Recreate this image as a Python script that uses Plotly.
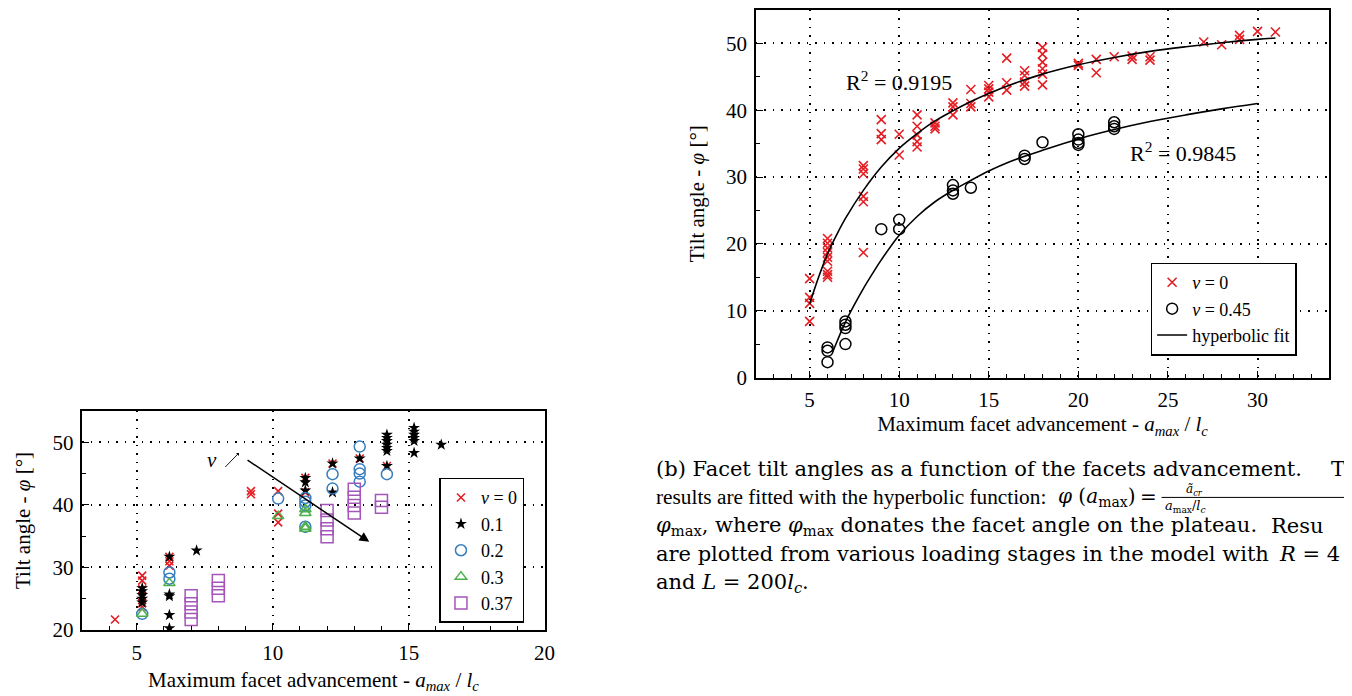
import plotly.graph_objects as go

# ---------------- Left chart data (various nu) ----------------
nu0_x = [4.2, 5.2, 5.2, 5.2, 5.2, 5.2, 5.2, 6.2, 6.2, 6.2, 9.2, 9.2, 10.2, 10.2, 10.2, 11.2, 11.2, 12.2, 13.2, 14.2]
nu0_y = [21.7, 28.7, 27.9, 26.5, 25.2, 24.3, 23.7, 31.7, 31.0, 30.3, 42.2, 41.7, 42.2, 38.6, 37.2, 44.3, 42.0, 46.6, 47.4, 46.2]

nu01_x = [5.2, 5.2, 5.2, 5.2, 5.2, 6.2, 6.2, 6.2, 6.2, 6.2, 7.2, 11.2, 11.2, 11.2, 12.2, 12.2, 13.2,
          14.2, 14.2, 14.2, 14.2, 14.2, 14.2, 14.2, 15.2, 15.2, 15.2, 15.2, 15.2, 15.2, 16.2]
nu01_y = [26.7, 26.2, 25.6, 25.0, 24.4, 31.7, 25.7, 25.4, 22.4, 20.3, 32.7, 44.3, 43.6, 42.3, 46.6, 42.0, 47.4,
          51.2, 50.7, 50.2, 49.6, 49.1, 48.6, 46.2, 52.3, 51.7, 51.2, 50.7, 50.2, 48.3, 49.6]

nu02_x = [5.2, 6.2, 6.2, 10.2, 11.2, 11.2, 11.2, 11.2, 12.2, 12.2, 13.2, 13.2, 13.2, 13.2, 14.2]
nu02_y = [22.6, 29.2, 28.2, 41.0, 41.1, 40.5, 39.9, 36.5, 44.9, 42.6, 49.3, 45.7, 45.0, 43.7, 44.9]

nu03_x = [5.2, 6.2, 10.2, 11.2, 11.2, 11.2, 11.2]
nu03_y = [22.6, 27.5, 38.2, 39.3, 38.7, 36.5, 36.2]

nu037_x = [7.0, 7.0, 7.0, 7.0, 8.0, 8.0, 8.0, 12.0, 12.0, 12.0, 12.0, 13.0, 13.0, 13.0, 13.0, 14.0, 14.0]
nu037_y = [25.5, 24.2, 22.9, 21.7, 27.9, 26.7, 25.5, 39.1, 37.6, 36.2, 34.9, 42.5, 41.2, 39.9, 38.7, 40.7, 39.6]

left_legend_names = ["<i>ν</i> = 0", "0.1", "0.2", "0.3", "0.37"]

# ---------------- Right chart data ----------------
r0_x = [5, 5, 5, 5,
        6, 6, 6, 6, 6, 6, 6, 6, 6,
        8, 8, 8, 8, 8, 8,
        9, 9, 9,
        10, 10,
        11, 11, 11, 11, 11,
        12, 12, 12,
        13, 13, 13,
        14, 14, 14,
        15, 15, 15, 15,
        16, 16, 16,
        17, 17, 17, 17,
        18, 18, 18, 18, 18, 18,
        20, 20, 21, 21, 22, 23, 23, 24, 24, 27, 28, 29, 29, 30, 31]
r0_y = [14.8, 12.0, 11.1, 8.4,
        20.8, 20.1, 19.4, 18.7, 18.0, 17.4, 15.9, 15.4, 15.0,
        31.7, 31.2, 30.5, 27.1, 26.3, 18.7,
        38.6, 36.5, 35.6,
        36.4, 33.3,
        39.3, 37.6, 36.3, 35.3, 34.5,
        38.1, 37.6, 37.2,
        41.1, 40.5, 39.3,
        43.1, 41.0, 40.5,
        43.7, 43.2, 42.7, 42.0,
        47.8, 44.1, 43.0,
        45.9, 45.2, 44.2, 43.6,
        49.4, 48.4, 47.2, 46.2, 45.4, 43.8,
        47.0, 46.7, 47.6, 45.6, 48.0, 48.1, 47.6, 48.0, 47.5, 50.2, 49.8, 51.2, 50.6, 51.8, 51.7]

r45_x = [6, 6, 6, 7, 7, 7, 7, 9, 10, 10, 13, 13, 13, 14, 17, 17, 18, 20, 20, 20, 20, 22, 22, 22]
r45_y = [4.5, 4.0, 2.3, 8.4, 7.9, 7.4, 5.0, 22.2, 23.6, 22.2, 28.8, 28.0, 27.5, 28.4, 33.2, 32.7, 35.2,
         36.4, 35.6, 35.1, 34.8, 38.2, 37.6, 37.2]

fit0_x = [5, 5.5, 6, 6.5, 7, 8, 9, 10, 11, 12, 13, 14, 15, 16, 18, 20, 22, 24, 26, 28, 30, 31]
fit0_y = [11.0, 15.0, 18.5, 21.3, 23.8, 28.0, 31.5, 34.3, 36.5, 38.4, 39.9, 41.3, 42.5, 43.6, 45.4, 46.8,
          47.9, 48.8, 49.5, 50.1, 50.6, 50.8]

fit45_x = [6.3, 6.5, 6.75, 7, 7.5, 8, 8.5, 9, 10, 11, 12, 13, 14, 15, 16, 17, 18, 20, 22, 24, 26, 28, 30]
fit45_y = [3.9, 5.2, 6.8, 8.3, 10.9, 13.3, 15.5, 17.6, 21.3, 24.1, 26.3, 28.0, 29.5, 30.9, 32.1, 33.1, 34.0,
           35.7, 37.1, 38.3, 39.3, 40.2, 41.0]

r2_labels = ["R<sup>2</sup> = 0.9195", "R<sup>2</sup> = 0.9845"]

SERIF = "Liberation Serif"
CAPFONT = "DejaVu Serif"
RED = "rgb(228,30,36)"
BLUE = "rgb(55,126,190)"
GREEN = "rgb(77,175,74)"
PURPLE = "rgb(165,85,185)"

fig = go.Figure()

# left chart traces
fig.add_trace(go.Scatter(x=nu0_x, y=nu0_y, mode="markers", name=left_legend_names[0],
                         marker=dict(symbol="x-thin-open", size=8, color=RED, line=dict(color=RED, width=1.6)),
                         xaxis="x", yaxis="y", legend="legend"))
fig.add_trace(go.Scatter(x=nu01_x, y=nu01_y, mode="markers", name=left_legend_names[1],
                         marker=dict(symbol="star", size=9, color="black", line=dict(width=0)),
                         xaxis="x", yaxis="y", legend="legend"))
fig.add_trace(go.Scatter(x=nu02_x, y=nu02_y, mode="markers", name=left_legend_names[2],
                         marker=dict(symbol="circle-open", size=11, color=BLUE, line=dict(color=BLUE, width=1.5)),
                         xaxis="x", yaxis="y", legend="legend"))
fig.add_trace(go.Scatter(x=nu03_x, y=nu03_y, mode="markers", name=left_legend_names[3],
                         marker=dict(symbol="triangle-up-open", size=10, color=GREEN, line=dict(color=GREEN, width=1.5)),
                         xaxis="x", yaxis="y", legend="legend"))
fig.add_trace(go.Scatter(x=nu037_x, y=nu037_y, mode="markers", name=left_legend_names[4],
                         marker=dict(symbol="square-open", size=12, color=PURPLE, line=dict(color=PURPLE, width=1.5)),
                         xaxis="x", yaxis="y", legend="legend"))

# right chart traces
fig.add_trace(go.Scatter(x=r0_x, y=r0_y, mode="markers", name="<i>ν</i> = 0",
                         marker=dict(symbol="x-thin-open", size=9, color=RED, line=dict(color=RED, width=1.6)),
                         xaxis="x2", yaxis="y2", legend="legend2"))
fig.add_trace(go.Scatter(x=r45_x, y=r45_y, mode="markers", name="<i>ν</i> = 0.45",
                         marker=dict(symbol="circle-open", size=11, color="black", line=dict(color="black", width=1.5)),
                         xaxis="x2", yaxis="y2", legend="legend2"))
fig.add_trace(go.Scatter(x=fit0_x, y=fit0_y, mode="lines", name="hyperbolic fit", line_shape="spline",
                         line=dict(color="black", width=1.6), legendgroup="fit",
                         xaxis="x2", yaxis="y2", legend="legend2"))
fig.add_trace(go.Scatter(x=fit45_x, y=fit45_y, mode="lines", name="hyperbolic fit", line_shape="spline",
                         line=dict(color="black", width=1.6), legendgroup="fit", showlegend=False,
                         xaxis="x2", yaxis="y2", legend="legend2"))

W, H = 1352, 696
def px(x): return x / W
def py(y): return (H - y) / H

axis_common = dict(showline=True, linecolor="black", linewidth=1.5, mirror=True,
                   ticks="inside", ticklen=7, tickwidth=1.2, tickcolor="black", ticklabelstandoff=3,
                   showgrid=True, gridcolor="black", gridwidth=1.5, griddash="1.5px,7px",
                   zeroline=False, tickfont=dict(family=SERIF, size=21, color="black"))

xt = "Maximum facet advancement - <i>a<sub>max</sub></i> / <i>l<sub>c</sub></i>"
yt = "Tilt angle - <i>φ</i> [°]"

fig.update_layout(
    width=W, height=H, margin=dict(l=0, r=0, t=0, b=0),
    paper_bgcolor="white", plot_bgcolor="white",
    font=dict(family=SERIF, color="black"),
    xaxis=dict(domain=[px(75), px(541)], range=[3, 20], tickvals=[5, 10, 15, 20],
               minor=dict(dtick=1, ticks="inside", ticklen=4, tickcolor="black", showgrid=False),
               title=dict(text=xt, font=dict(family=SERIF, size=21), standoff=8),
               anchor="y", **axis_common),
    yaxis=dict(domain=[py(633), py(410)], range=[20, 55], tickvals=[20, 30, 40, 50],
               minor=dict(dtick=5, ticks="inside", ticklen=4, tickcolor="black", showgrid=False),
               title=dict(text=yt, font=dict(family=SERIF, size=21), standoff=16),
               anchor="x", **axis_common),
    xaxis2=dict(domain=[px(754), px(1332)], range=[2, 34], tickvals=[5, 10, 15, 20, 25, 30],
                minor=dict(dtick=1, ticks="inside", ticklen=4, tickcolor="black", showgrid=False),
                title=dict(text=xt, font=dict(family=SERIF, size=21), standoff=4),
                anchor="y2", **axis_common),
    yaxis2=dict(domain=[py(376), py(2)], range=[0, 55], tickvals=[0, 10, 20, 30, 40, 50],
                minor=dict(dtick=5, ticks="inside", ticklen=4, tickcolor="black", showgrid=False),
                title=dict(text=yt, font=dict(family=SERIF, size=21), standoff=16),
                anchor="x2", **axis_common),
    legend=dict(x=px(435), y=py(478), xanchor="left", yanchor="top",
                bgcolor="white", bordercolor="black", borderwidth=1.5,
                font=dict(family=SERIF, size=18, color="black"), tracegroupgap=0),
    legend2=dict(x=px(1152), y=py(259), xanchor="left", yanchor="top",
                 bgcolor="white", bordercolor="black", borderwidth=1.5,
                 font=dict(family=SERIF, size=18, color="black"), tracegroupgap=0),
    showlegend=True,
)

annotations = []
# nu arrow annotations (left chart)
annotations.append(dict(x=13.55, y=34.1, ax=9.02, ay=47.3, xref="x", yref="y", axref="x", ayref="y",
                        showarrow=True, arrowhead=2, arrowsize=1.3, arrowwidth=1.5, arrowcolor="black", text=""))
annotations.append(dict(x=8.76, y=48.3, ax=8.2, ay=45.8, xref="x", yref="y", axref="x", ayref="y",
                        showarrow=True, arrowhead=1, arrowsize=0.8, arrowwidth=0.9, arrowcolor="black", text=""))
annotations.append(dict(x=7.78, y=47.2, xref="x", yref="y", text="<i>ν</i>", showarrow=False,
                        font=dict(family=SERIF, size=21)))
# R^2 labels
annotations.append(dict(x=9.97, y=44.3, xref="x2", yref="y2", text=r2_labels[0], showarrow=False,
                        font=dict(family=SERIF, size=22)))
annotations.append(dict(x=25.86, y=33.7, xref="x2", yref="y2", text=r2_labels[1], showarrow=False,
                        font=dict(family=SERIF, size=22)))

# caption
def cap(x, y, text, size=21, family=CAPFONT):
    annotations.append(dict(x=px(x), y=py(y), xref="paper", yref="paper", xanchor="left", yanchor="middle",
                            text=text, showarrow=False, borderpad=0,
                            font=dict(family=family, size=size, color="black")))

cap(652, 469, "(b) Facet tilt angles as a function of the facets advancement.")
cap(1333, 469, "T")
cap(652, 498, "results are fitted with the hyperbolic function:", size=21.3, family=SERIF)
cap(1058, 498, "<i>φ</i> (<i>a</i><sub>max</sub>)", size=20)
cap(1140, 498, "=", size=20)
cap(1187, 490, "<i>ã<sub>cr</sub></i>", size=12)
cap(1165, 507, "<i>a</i><sub>max</sub>/<i>l<sub>c</sub></i>", size=13)
cap(652, 527, "<i>φ</i><sub>max</sub>, where <i>φ</i><sub>max</sub> donates the facet angle on the plateau.")
cap(1272, 527, "Resu")
cap(652, 556, "are plotted from various loading stages in the model with")
cap(1280, 556, "<i>R</i> = 4")
cap(652, 585, "and <i>L</i> = 200<i>l<sub>c</sub></i>.")

fig.update_layout(annotations=annotations)
fig.add_shape(type="line", xref="paper", yref="paper", x0=px(1163), x1=px(1352), y0=py(498), y1=py(498),
              line=dict(color="black", width=1))

fig.write_html("out.html")
